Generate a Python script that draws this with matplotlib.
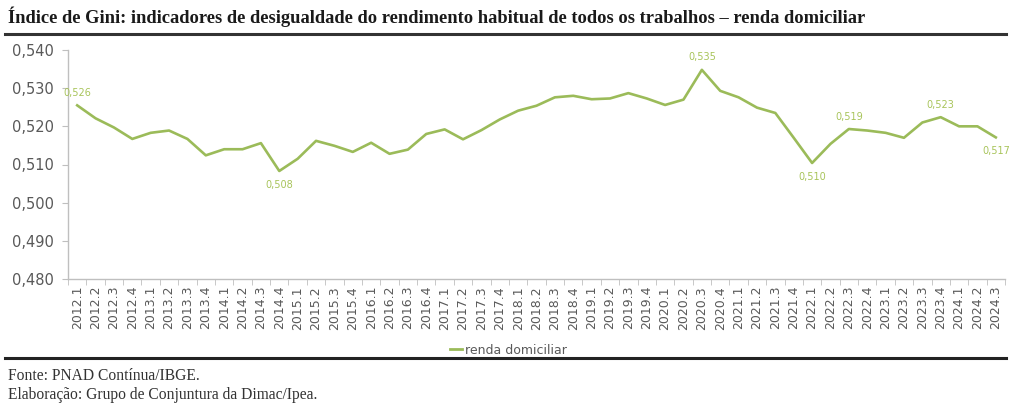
import numpy as np
import matplotlib
matplotlib.use("Agg")
from matplotlib import pyplot as plt
from matplotlib.lines import Line2D

# dados
trimestres = [f"{a}.{t}" for a in range(2012, 2025) for t in range(1, 5)][:51]
gini = [0.5255, 0.5221, 0.5197, 0.5167, 0.5183, 0.5189, 0.5167, 0.5124,
        0.5140, 0.5140, 0.5156, 0.5083, 0.5115, 0.5162, 0.5149, 0.5133,
        0.5157, 0.5128, 0.5139, 0.5180, 0.5192, 0.5166, 0.5190, 0.5218,
        0.5241, 0.5254, 0.5276, 0.5280, 0.5271, 0.5273, 0.5287, 0.5273,
        0.5256, 0.5270, 0.5348, 0.5293, 0.5276, 0.5249, 0.5235, 0.5170,
        0.5104, 0.5154, 0.5193, 0.5189, 0.5183, 0.5170, 0.5210, 0.5224,
        0.5200, 0.5200, 0.5171]
rotulos = {"2012.1": ("0,526", "up"), "2014.4": ("0,508", "down"),
           "2020.3": ("0,535", "up"), "2022.1": ("0,510", "down"),
           "2022.3": ("0,519", "up"), "2023.4": ("0,523", "up"),
           "2024.3": ("0,517", "down")}
yticks = [0.48, 0.49, 0.50, 0.51, 0.52, 0.53, 0.54]

verde = "#9BBB59"
verde_rot = "#A8C45A"
cinza = "#595959"

fig = plt.figure(figsize=(10.11, 4.05), dpi=100)
ax = fig.add_axes([68 / 1011, 1 - 279 / 405, (1005 - 68) / 1011, 229 / 405])

x = np.arange(len(trimestres))
ax.plot(x, gini, color=verde, lw=1.9, solid_joinstyle="round")

for i, t in enumerate(trimestres):
    if t in rotulos:
        txt, pos = rotulos[t]
        dy = 9 if pos == "up" else -10
        ax.annotate(txt, (i, gini[i]), xytext=(0, dy), textcoords="offset points",
                    ha="center", va="center", fontsize=7, color=verde_rot)

ax.set_xlim(-0.5, len(trimestres) - 0.5)
ax.set_ylim(0.48, 0.54)
ax.set_yticks(yticks)
ax.set_yticklabels([f"{v:.3f}".replace(".", ",") for v in yticks])
ax.set_xticks(x)
ax.set_xticklabels(trimestres, rotation=90)
ax.set_xticks(np.arange(-0.5, len(trimestres)), minor=True)
ax.tick_params(axis="x", which="major", length=0, pad=5, labelsize=9, labelcolor=cinza)
ax.tick_params(axis="x", which="minor", length=4, color="#BFBFBF", direction="out")
ax.tick_params(axis="y", length=4, color="#BFBFBF", labelsize=10.5, labelcolor=cinza, pad=6)

for s in ["top", "right"]:
    ax.spines[s].set_visible(False)
for s in ["left", "bottom"]:
    ax.spines[s].set_color("#BFBFBF")
    ax.spines[s].set_linewidth(1.0)

leg = [Line2D([0], [0], color=verde, lw=2)]
fig.legend(leg, ["renda domiciliar"], loc="center", bbox_to_anchor=(508 / 1011, 1 - 350 / 405),
           frameon=False, fontsize=9, handlelength=1.0, handletextpad=0.2, labelcolor=cinza)

fig.text(8 / 1011, 1 - 17 / 405,
         "Índice de Gini: indicadores de desigualdade do rendimento habitual de todos os trabalhos – renda domiciliar",
         fontsize=13.3, fontweight="bold", family="Liberation Serif", va="center", ha="left", color="#1a1a1a")
fig.add_artist(Line2D([0.005, 0.995], [1 - 34 / 405, 1 - 34 / 405], color="#333333", lw=2.2))
fig.add_artist(Line2D([0.005, 0.995], [1 - 358 / 405, 1 - 358 / 405], color="#222222", lw=2.2))
fig.text(8 / 1011, 1 - 376 / 405, "Fonte: PNAD Contínua/IBGE.", fontsize=11.2,
         family="Liberation Serif", va="center", color="#333333")
fig.text(8 / 1011, 1 - 395 / 405, "Elaboração: Grupo de Conjuntura da Dimac/Ipea.", fontsize=11.2,
         family="Liberation Serif", va="center", color="#333333")

fig.savefig("out.png", dpi=100)
